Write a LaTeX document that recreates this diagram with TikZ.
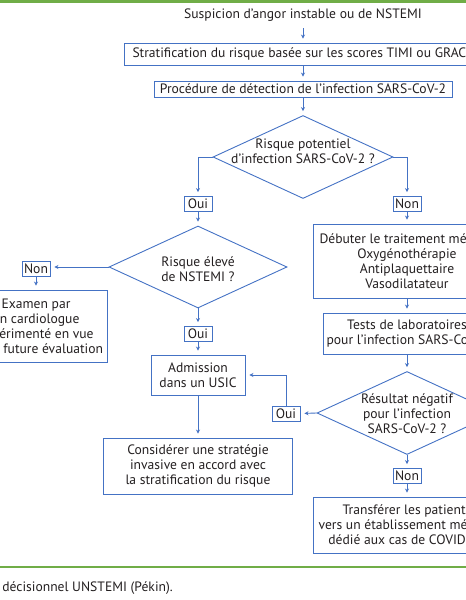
\documentclass[tikz,border=0pt]{standalone}
\usepackage{fontspec}
\setmainfont{PT Sans}
\usepackage{xcolor}
\usetikzlibrary{shapes.geometric,arrows.meta,calc}
\definecolor{flowblue}{RGB}{68,114,196}
\definecolor{rulegreen}{RGB}{112,173,71}
\definecolor{inkgray}{RGB}{35,31,32}
\newcommand{\flowfont}{\fontsize{13.6}{15}\selectfont}

\tikzset{
  box/.style={draw=flowblue, line width=0.9pt, align=center, inner sep=0pt,
    font=\flowfont, text=inkgray},
  tag/.style={draw=flowblue, line width=0.9pt, inner sep=0pt, minimum width=28pt,
    minimum height=15pt, font=\flowfont, text=inkgray},
  decision/.style={draw=flowblue, line width=0.9pt, diamond, inner sep=0pt,
    minimum width=180pt, minimum height=83pt},
  txt/.style={align=center, inner sep=0pt, font=\flowfont, text=inkgray},
  arr/.style={draw=flowblue, line width=0.9pt, -{Stealth[length=4pt,width=4pt]},
    shorten >=4pt},
}

\begin{document}
\begin{tikzpicture}[x=1pt,y=-1pt]
  % page frame, cropped like the scan
  \useasboundingbox (0,0) rectangle (466,600);
  \clip (0,0) rectangle (466,600);
  \def\cM{303}
  \def\cL{198}
  \def\cR{407}

  % green rules
  \draw[rulegreen, line width=2.5pt] (0,1.5) -- (466,1.5);
  \draw[rulegreen, line width=2pt] (0,567) -- (466,567);

  % top of the chart
  \node[txt] (start) at (\cM,15) {Suspicion d’angor instable ou de NSTEMI};
  \node[box, minimum width=358pt, minimum height=22pt] (strat) at (\cM,54)
    {Stratification du risque basée sur les scores TIMI ou GRACE};
  \node[box, minimum width=298pt, minimum height=16pt] (proc) at (\cM,89)
    {Procédure de détection de l’infection SARS-CoV-2};
  \node[decision] (q1) at (\cM,157) {};
  \node[txt] (q1t) at (\cM,151) {Risque potentiel\\d’infection SARS-CoV-2 ?};
  \node[tag] (oui1) at (\cL,204) {Oui};
  \node[tag] (non1) at (\cR,204) {Non};

  % left branch
  \node[decision, minimum width=178pt, minimum height=82pt] (q2) at (\cL,267) {};
  \node[txt] (q2t) at (\cL,269) {Risque élevé\\de NSTEMI ?};
  \node[tag] (non2) at (36,269) {Non};
  \node[box, minimum width=142pt, minimum height=72pt] (exam) at (36,326)
    {Examen par\\un cardiologue\\expérimenté en vue\\d’une future évaluation};
  \node[tag] (oui2) at (\cL,334) {Oui};
  \node[box, minimum width=94pt, minimum height=40pt] (adm) at (\cL,375)
    {Admission\\dans un USIC};
  \node[box, minimum width=189pt, minimum height=56pt] (consid) at (\cL,466)
    {Considérer une stratégie\\invasive en accord avec\\la stratification du risque};

  % right branch
  \node[box, minimum width=188pt, minimum height=74pt] (debut) at (\cR,261)
    {Débuter le traitement médical\\Oxygénothérapie\\Antiplaquettaire\\Vasodilatateur};
  \node[box, minimum width=168pt, minimum height=41pt] (tests) at (\cR,333.5)
    {Tests de laboratoires\\pour l’infection SARS-CoV-2};
  \node[decision] (q3) at (\cR,413) {};
  \node[txt] (q3t) at (\cR,413.5) {Résultat négatif\\pour l’infection\\SARS-CoV-2 ?};
  \node[tag] (oui3) at (286,414) {Oui};
  \node[tag] (non3) at (\cR,476) {Non};
  \node[box, minimum width=188pt, minimum height=56pt] (transf) at (\cR,525)
    {Transférer les patients\\vers un établissement médical\\dédié aux cas de COVID-19};

  % caption
  \node[txt, anchor=east] (capt) at (173,588) {Arbre décisionnel UNSTEMI (Pékin).};

  % connectors
  \draw[arr, shorten <=7pt] (start.south) -- (strat);
  \draw[arr] (strat) -- (proc);
  \draw[arr] (proc) -- (q1);
  \draw[arr] (q1.west) -| (oui1);
  \draw[arr] (q1.east) -| (non1);
  \draw[arr] (oui1) -- (q2);
  \draw[arr] (non1) -- (debut);
  \draw[arr] (q2.west) -- (q2.west -| non2.east);
  \draw[arr] (non2) -- (exam);
  \draw[arr] (q2.south) -- (oui2);
  \draw[arr] (oui2) -- (adm);
  \draw[arr] (adm) -- (consid);
  \draw[arr] (debut) -- (tests);
  \draw[arr] (tests) -- (q3);
  \draw[arr] (q3.west) -- (oui3);
  \draw[arr] (oui3.north) |- (adm.east);
  \draw[arr] (q3.south) -- (non3);
  \draw[arr] (non3) -- (transf);
\end{tikzpicture}
\end{document}
